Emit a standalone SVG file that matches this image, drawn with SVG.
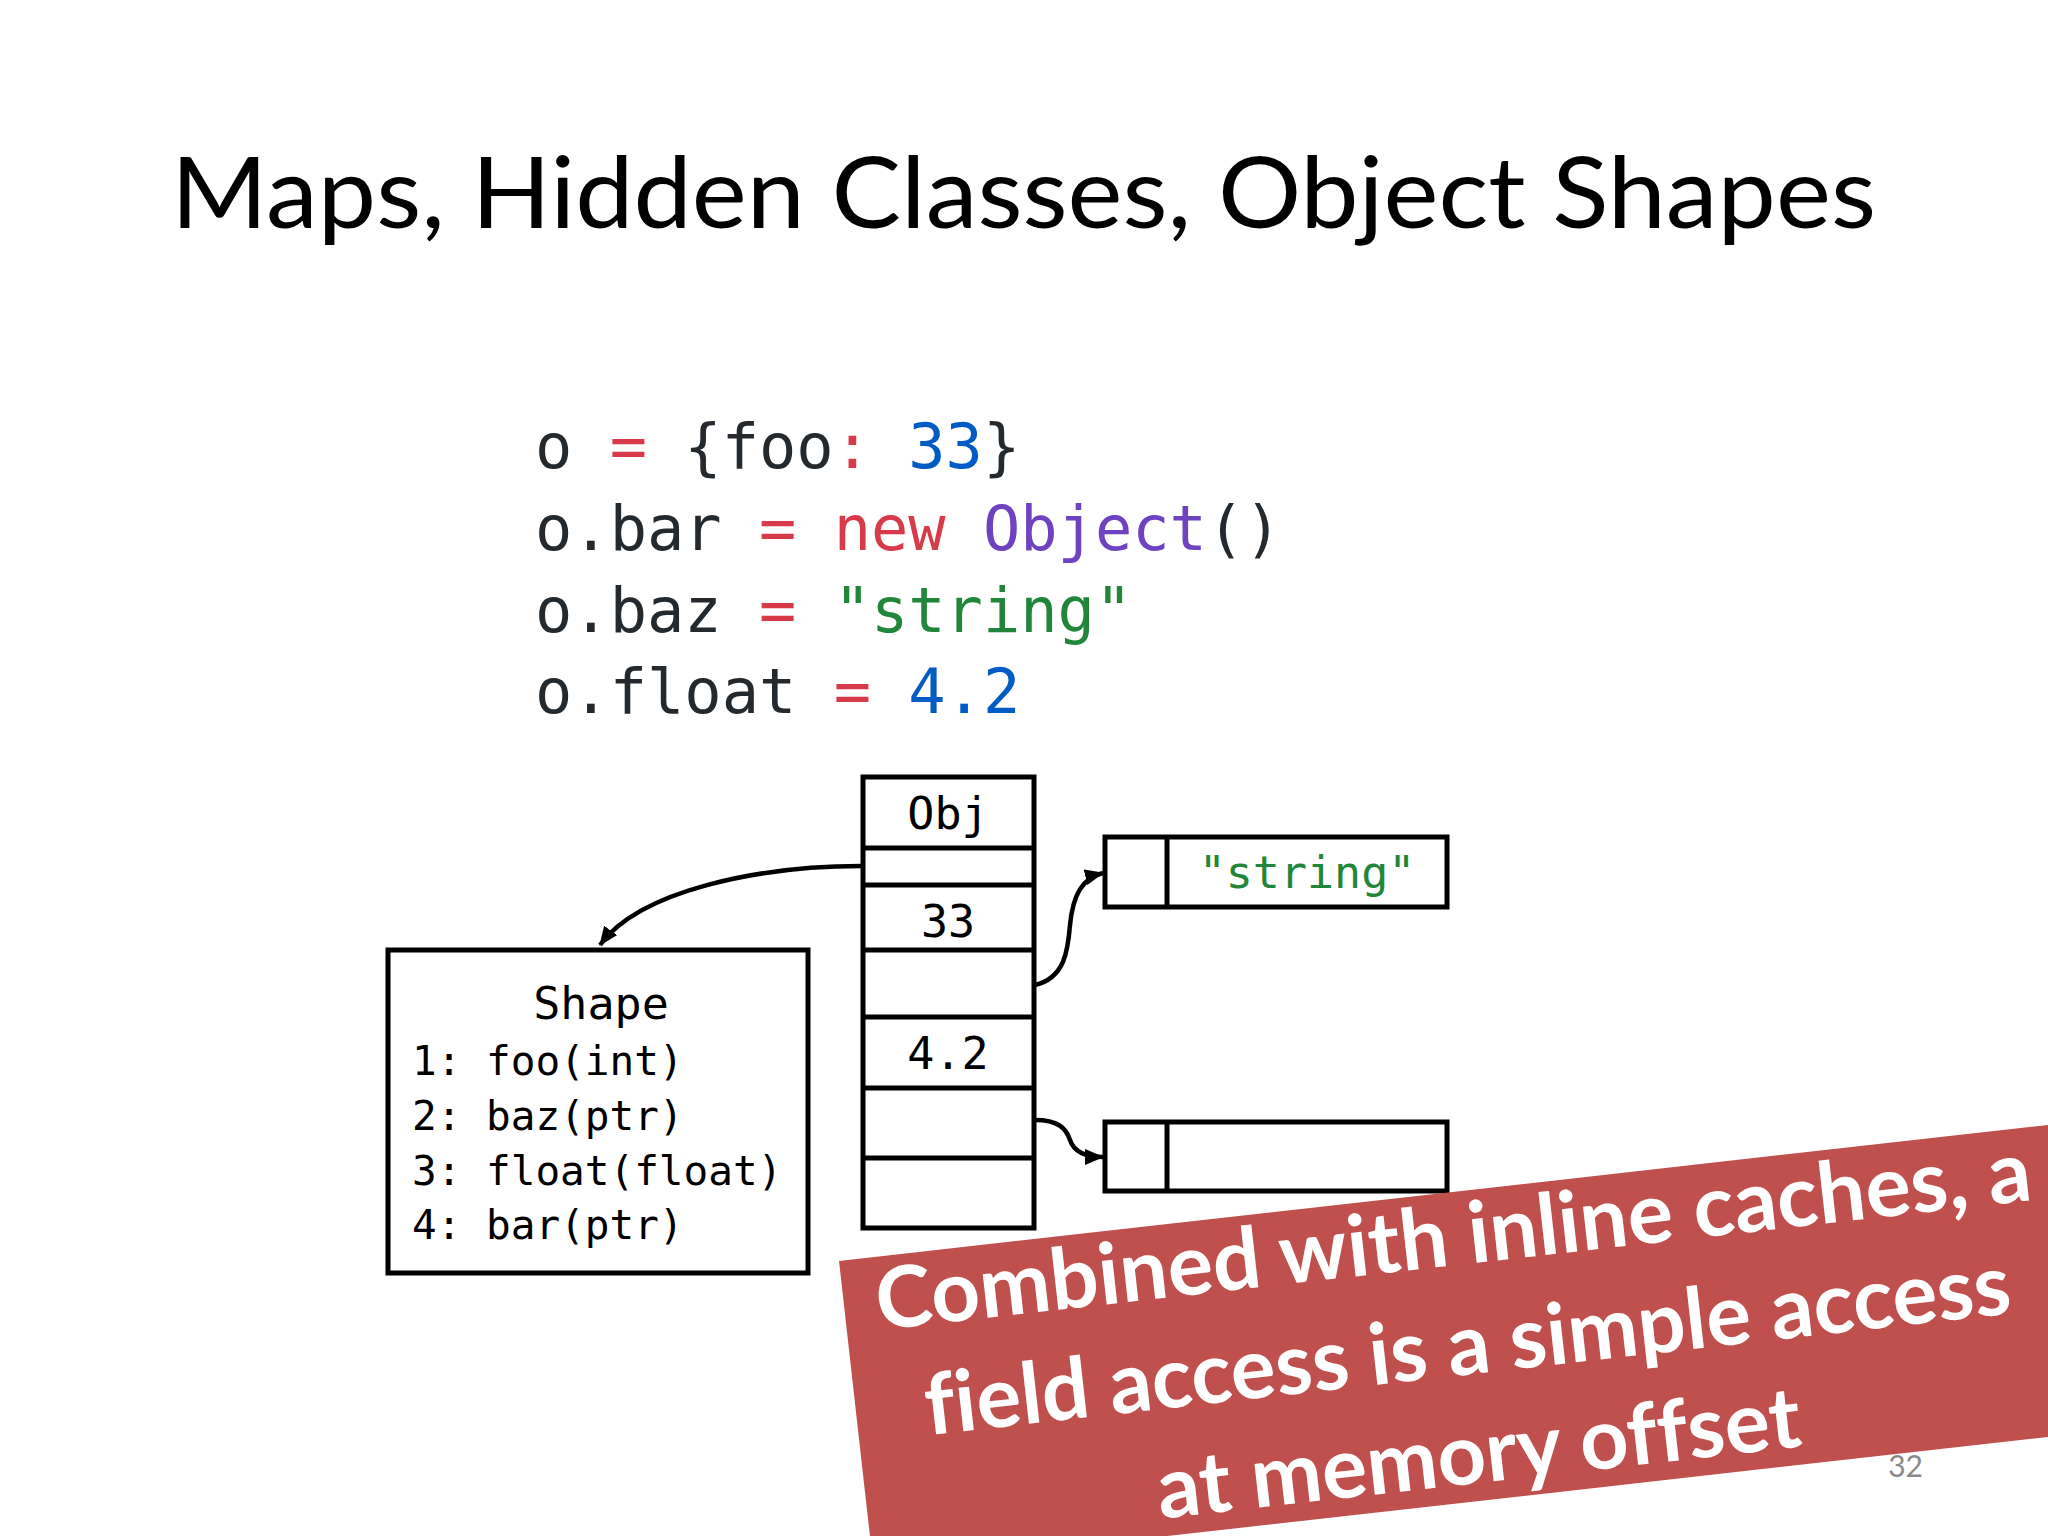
<svg xmlns="http://www.w3.org/2000/svg" width="2048" height="1536" viewBox="0 0 2048 1536">
<style>
.box{fill:#fff;stroke:#000;stroke-width:5;stroke-linejoin:miter}
.ln{stroke:#000;stroke-width:5}
.mono{font-family:"DejaVu Sans Mono","Liberation Mono",monospace}
.code{font-size:62px;fill:#24292e}
.cell{font-size:45px;fill:#000;text-anchor:middle}
.item{font-size:41px;fill:#000}
.op{fill:#d73a49}
.num{fill:#005cc5}
.cls{fill:#6f42c1}
.str{fill:#22863a}
.conn{fill:none;stroke:#000;stroke-width:4.5;marker-end:url(#ah)}
.ban{font-family:Lato,"Open Sans",sans-serif;font-weight:bold;font-size:85px;fill:#fff;text-anchor:middle;font-variant-ligatures:none}
</style>
<defs>
<marker id="ah" markerUnits="userSpaceOnUse" markerWidth="22" markerHeight="18" refX="18" refY="8" orient="auto">
<path d="M0,0 L19,8 L0,16 Z" fill="#000"/>
</marker>
</defs>
<rect width="2048" height="1536" fill="#fff"/>

<g id="title">
<text x="171" y="228" font-family="Lato,'Open Sans',sans-serif" font-size="99" fill="#000" textLength="1705" lengthAdjust="spacingAndGlyphs">Maps, Hidden Classes, Object Shapes</text>
</g>

<g id="code" class="mono code">
<text x="535" y="468">o <tspan class="op">=</tspan> {foo<tspan class="op">:</tspan> <tspan class="num">33</tspan>}</text>
<text x="535" y="550">o.bar <tspan class="op">=</tspan> <tspan class="op">new</tspan> <tspan class="cls">Object</tspan>()</text>
<text x="535" y="632">o.baz <tspan class="op">=</tspan> <tspan class="str">"string"</tspan></text>
<text x="535" y="713">o.float <tspan class="op">=</tspan> <tspan class="num">4.2</tspan></text>
</g>

<g id="obj">
<rect class="box" x="863" y="777" width="171" height="451"/>
<line class="ln" x1="863" y1="848" x2="1034" y2="848"/>
<line class="ln" x1="863" y1="885" x2="1034" y2="885"/>
<line class="ln" x1="863" y1="950" x2="1034" y2="950"/>
<line class="ln" x1="863" y1="1017" x2="1034" y2="1017"/>
<line class="ln" x1="863" y1="1088" x2="1034" y2="1088"/>
<line class="ln" x1="863" y1="1158" x2="1034" y2="1158" stroke-width="6"/>
<text class="mono cell" x="948" y="829">Obj</text>
<text class="mono cell" x="948" y="937">33</text>
<text class="mono cell" x="948" y="1069">4.2</text>
</g>

<g id="shape">
<rect class="box" x="388" y="950" width="420" height="323"/>
<text class="mono cell" x="601" y="1019">Shape</text>
<text class="mono item" x="412" y="1075">1: foo(int)</text>
<text class="mono item" x="412" y="1130">2: baz(ptr)</text>
<text class="mono item" x="412" y="1185">3: float(float)</text>
<text class="mono item" x="412" y="1239">4: bar(ptr)</text>
</g>

<g id="string-box">
<rect class="box" x="1105" y="837" width="342" height="70"/>
<line class="ln" x1="1167" y1="837" x2="1167" y2="907"/>
<text class="mono cell str" x="1307" y="888" font-size="44">"string"</text>
</g>

<g id="float-box">
<rect class="box" x="1105" y="1122" width="342" height="69"/>
<line class="ln" x1="1167" y1="1122" x2="1167" y2="1191"/>
</g>

<g id="connectors">
<path class="conn" d="M862,866 C760,866 640,890 600,945"/>
<path class="conn" d="M1035,985 C1065,978 1068,950 1070,925 C1073,895 1082,878 1103,873"/>
<path class="conn" d="M1035,1120 C1058,1120 1066,1128 1070,1140 C1074,1152 1085,1157 1103,1157"/>
</g>

<g id="page-number">
<text x="1923" y="1477" font-family="Lato,'Open Sans',sans-serif" font-size="30" fill="#898989" text-anchor="end">32</text>
</g>

<g id="banner" transform="translate(839,1261) rotate(-6.42)">
<rect x="0" y="0" width="1400" height="310" fill="#c0504d"/>
<text class="ban" x="613" y="73" textLength="1162" lengthAdjust="spacingAndGlyphs">Combined with inline caches, a</text>
<text class="ban" x="615" y="183" textLength="1092" lengthAdjust="spacingAndGlyphs">field access is a simple access</text>
<text class="ban" x="614" y="292" textLength="647" lengthAdjust="spacingAndGlyphs">at memory offset</text>
</g>
</svg>
